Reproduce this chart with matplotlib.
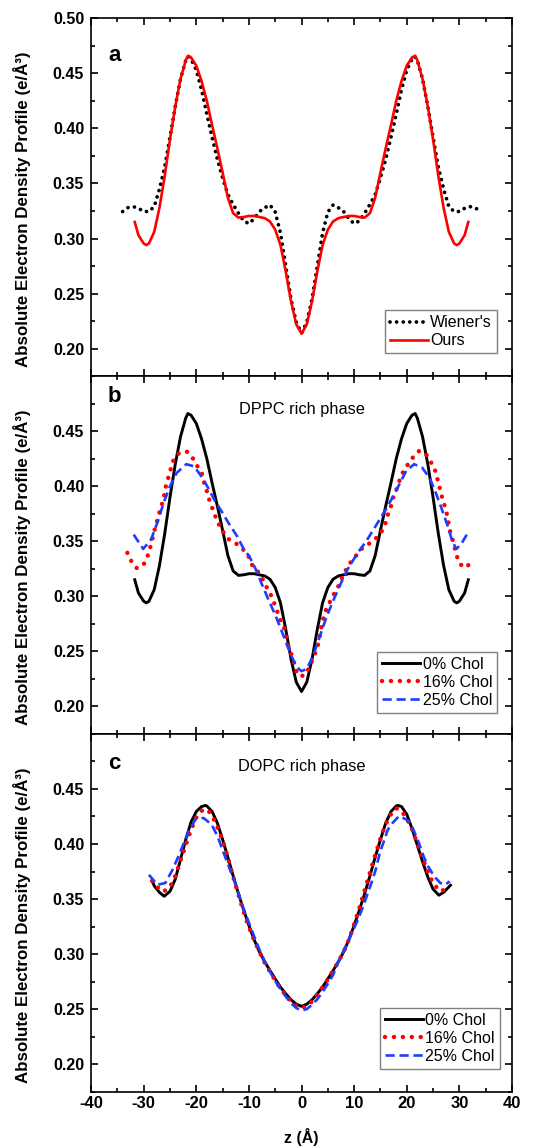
import matplotlib
matplotlib.use("Agg")
import matplotlib.pyplot as plt
from matplotlib.ticker import MultipleLocator

plt.rcParams['font.family'] = ['Liberation Sans', 'DejaVu Sans']
plt.rcParams['axes.unicode_minus'] = False

# panel a: "Ours" (also the 0% Chol curve of panel b)
ours_z = [-31.7, -31, -30, -29.5, -29, -28, -27, -26, -25, -24, -23, -22, -21.6, -21, -20, -19, -18, -17,
          -16, -15, -14, -13, -12, -11, -10, -9, -8, -7, -6, -5, -4, -3, -2, -1, 0,
          1, 2, 3, 4, 5, 6, 7, 8, 9, 10, 11, 12, 13, 14, 15, 16, 17, 18, 19, 20, 21, 21.6, 22,
          23, 24, 25, 26, 27, 28, 29, 29.5, 30, 31, 31.7]
ours_rho = [0.315, 0.303, 0.2955, 0.294, 0.2955, 0.306, 0.328, 0.357, 0.390, 0.420, 0.445, 0.462, 0.466,
            0.4645, 0.457, 0.443, 0.425, 0.403, 0.382, 0.360, 0.337, 0.323, 0.319, 0.3195, 0.3205, 0.3205,
            0.3195, 0.3185, 0.3155, 0.308, 0.294, 0.270, 0.243, 0.222, 0.2135,
            0.222, 0.243, 0.270, 0.294, 0.308, 0.3155, 0.3185, 0.3195, 0.3205, 0.3205, 0.3195, 0.319,
            0.323, 0.337, 0.360, 0.382, 0.403, 0.425, 0.443, 0.457, 0.4645, 0.466, 0.462, 0.445, 0.420,
            0.390, 0.357, 0.328, 0.306, 0.2955, 0.294, 0.2955, 0.303, 0.315]

# panel a: Wiener's
wiener_z = [-34, -33, -32, -31, -30, -29, -28, -27, -26, -25, -24, -23, -22, -21.5, -21, -20, -19, -18,
            -17, -16, -15, -14, -13, -12, -11, -10, -9, -8, -7, -6, -5, -4, -3, -2, -1, 0,
            1, 2, 3, 4, 5, 6, 7, 8, 9, 10, 11, 12, 13, 14, 15, 16, 17, 18, 19, 20, 21, 21.5, 22,
            23, 24, 25, 26, 27, 28, 29, 30, 31, 32, 33, 34]
wiener_rho = [0.3245, 0.328, 0.329, 0.3275, 0.3245, 0.3245, 0.329, 0.345, 0.365, 0.392, 0.420, 0.445,
              0.462, 0.4655, 0.463, 0.453, 0.435, 0.413, 0.392, 0.372, 0.355, 0.340, 0.331, 0.323, 0.316,
              0.3135, 0.318, 0.3245, 0.328, 0.3305, 0.324, 0.305, 0.275, 0.245, 0.224, 0.214,
              0.224, 0.245, 0.275, 0.305, 0.324, 0.3305, 0.328, 0.3245, 0.318, 0.3135, 0.316, 0.323,
              0.331, 0.340, 0.355, 0.372, 0.392, 0.413, 0.435, 0.453, 0.463, 0.4655, 0.462, 0.445, 0.420,
              0.392, 0.365, 0.345, 0.329, 0.3245, 0.3245, 0.3275, 0.329, 0.328, 0.3245]

# panel b: DPPC rich phase
dppc16_z = [-33.1, -32.5, -31.3, -30.0, -29.3, -28.6, -28.0, -27.2, -26.8, -26.3, -26.0, -25.7, -25.25,
            -24.8, -24.35, -23.3, -21.8, -20.6, -19.8, -18.9, -18.5, -18.0, -17.6, -17.1, -16.6, -16.0,
            -15.1, -14.0, -12.6, -11.1, -9.9, -9.3, -8.1, -7.2, -6.5, -5.7, -4.75, -4.1, -3.2, -2.5,
            -1.6, -0.8, 0, 0.8, 1.6, 2.5, 3.2, 3.8, 4.4, 5.3, 6.0, 6.8, 7.9, 9.0, 10.2, 11.5, 12.9,
            14.25, 15.5, 16.1, 16.5, 17.0, 17.4, 18.05, 18.5, 19.1, 20.0, 21.1, 22.3, 23.6, 24.5,
            25.3, 25.7, 26.1, 26.5, 26.9, 27.4, 27.7, 28.0, 28.3, 28.8, 29.5, 30.2, 31.3, 32.5]
dppc16_rho = [0.3395, 0.333, 0.3255, 0.329, 0.336, 0.347, 0.359, 0.3728, 0.380, 0.387, 0.3946, 0.402,
              0.409, 0.4167, 0.4234, 0.430, 0.4315, 0.425, 0.4182, 0.411, 0.403, 0.3955, 0.3886, 0.382,
              0.3752, 0.368, 0.360, 0.3523, 0.3486, 0.3425, 0.335, 0.3274, 0.3214, 0.3138, 0.307, 0.300,
              0.288, 0.279, 0.270, 0.2548, 0.2427, 0.229, 0.2275, 0.229, 0.2366, 0.247, 0.257, 0.273,
              0.285, 0.294, 0.3007, 0.3071, 0.319, 0.3289, 0.3359, 0.3435, 0.348, 0.3531, 0.3607,
              0.3683, 0.3758, 0.3819, 0.3894, 0.397, 0.4036, 0.4112, 0.4182, 0.4257, 0.4318, 0.4297,
              0.4227, 0.4158, 0.4091, 0.4016, 0.394, 0.3864, 0.3795, 0.3728, 0.3653, 0.3577, 0.3501,
              0.3365, 0.3289, 0.326, 0.333]
dppc25_z = [-31.9, -30.1, -28.6, -27.4, -26.2, -25.0, -23.75, -21.9, -20.4, -18.9, -17.7, -16.5, -15.3,
            -13.8, -12.3, -11.1, -9.9, -8.7, -7.5, -6.2, -4.9, -3.5, -2.2, -1.0, 0, 1.0, 2.2, 3.5, 4.8,
            6.2, 7.5, 8.7, 10.6, 12.3, 14.5, 16.3, 18.2, 19.9, 21.4, 22.9, 24.4, 25.6, 26.6, 27.7,
            28.6, 29.4, 30.3, 31.4]
dppc25_rho = [0.356, 0.343, 0.3516, 0.367, 0.385, 0.400, 0.412, 0.420, 0.418, 0.408, 0.398, 0.387, 0.378,
              0.366, 0.355, 0.344, 0.336, 0.3245, 0.3105, 0.296, 0.282, 0.265, 0.249, 0.236, 0.232,
              0.234, 0.246, 0.264, 0.282, 0.298, 0.312, 0.324, 0.339, 0.350, 0.367, 0.381, 0.398, 0.414,
              0.420, 0.417, 0.407, 0.393, 0.380, 0.365, 0.351, 0.343, 0.347, 0.356]

# panel c: DOPC rich phase
dopc0_z = [-28.3, -28, -27, -26.1, -25, -24, -23, -22, -21, -20, -19, -18.3, -18, -17, -16, -15, -14, -13,
           -12, -11, -10, -9, -8, -7, -6, -5, -4, -3, -2, -1, 0,
           1, 2, 3, 4, 5, 6, 7, 8, 9, 10, 11, 12, 13, 14, 15, 16, 17, 18, 18.3, 19, 20, 21, 22, 23,
           24, 25, 26.1, 27, 28, 28.3]
dopc0_rho = [0.3655, 0.362, 0.356, 0.3525, 0.357, 0.368, 0.386, 0.404, 0.420, 0.4295, 0.434, 0.435, 0.4345,
             0.4295, 0.419, 0.404, 0.388, 0.371, 0.355, 0.340, 0.326, 0.313, 0.302, 0.293, 0.285, 0.2775,
             0.270, 0.264, 0.2585, 0.2545, 0.2525,
             0.2545, 0.2585, 0.264, 0.270, 0.2775, 0.285, 0.293, 0.302, 0.313, 0.326, 0.340, 0.355,
             0.371, 0.388, 0.404, 0.419, 0.4295, 0.4345, 0.435, 0.434, 0.427, 0.414, 0.399, 0.384,
             0.370, 0.359, 0.3535, 0.356, 0.361, 0.3625]
dopc16_z = [-28.4, -27.2, -26.3, -25, -24, -23, -22, -21, -20, -19, -18.4, -17.5, -16.5, -15.5, -14.5,
            -13.5, -12.5, -11.5, -10.5, -9.5, -8, -7, -6, -5, -4, -3, -2, -1, 0, 1, 2, 3, 4, 5, 6, 7,
            8, 9, 10, 11, 12, 13, 14, 15, 16, 17, 18, 19, 20, 21, 22, 23, 24, 25, 26.3, 27.2, 28.2]
dopc16_rho = [0.3665, 0.360, 0.3565, 0.361, 0.371, 0.385, 0.399, 0.413, 0.424, 0.430, 0.432, 0.429,
              0.421, 0.4095, 0.396, 0.379, 0.362, 0.346, 0.331, 0.318, 0.302, 0.292, 0.284, 0.276, 0.269,
              0.263, 0.257, 0.253, 0.251, 0.2525, 0.257, 0.263, 0.270, 0.277, 0.285, 0.293, 0.302,
              0.313, 0.327, 0.342, 0.358, 0.374, 0.390, 0.405, 0.418, 0.427, 0.4325, 0.430, 0.423,
              0.4135, 0.4005, 0.387, 0.375, 0.3645, 0.357, 0.3585, 0.3625]
dopc25_z = [-29.0, -27.4, -25.9, -24.5, -23.0, -21.5, -20.1, -18.6, -17.1, -15.95, -14.8, -13.6, -12.4,
            -11.3, -10.1, -9, -8, -7, -6, -5, -4, -3, -2, -1, 0, 1, 2, 3, 4, 5, 6, 7, 8, 9, 10, 10.85,
            11.7, 12.6, 13.5, 14.1, 14.95, 15.55, 16.4, 17.3, 18.5, 19.35, 20.5, 21.4, 22.3, 23.2,
            24.05, 25.2, 26.4, 27.3, 28.15]
dopc25_rho = [0.372, 0.363, 0.3645, 0.3767, 0.3933, 0.4115, 0.4227, 0.4236, 0.4176, 0.407, 0.3918,
              0.3767, 0.3615, 0.3448, 0.3297, 0.316, 0.304, 0.2935, 0.284, 0.2755, 0.268, 0.2615,
              0.2555, 0.251, 0.2488, 0.250, 0.254, 0.259, 0.2655, 0.273, 0.281, 0.293, 0.303, 0.313,
              0.3236, 0.3327, 0.3433, 0.3554, 0.3676, 0.3767, 0.3933, 0.401, 0.413, 0.4191, 0.4252,
              0.4236, 0.4206, 0.4115, 0.401, 0.3888, 0.3797, 0.3706, 0.3645, 0.363, 0.366]

labels = ["0% Chol", "16% Chol", "25% Chol"]
ylab = "Absolute Electron Density Profile (e/Å³)"

red_dots = dict(color="#ff0000", lw=3.2, linestyle=(0, (0.01, 2.0)), dash_capstyle="round")
blue_dash = dict(color="#1f3dff", lw=1.9, linestyle=(0, (3.5, 1.8)))

fig, axes = plt.subplots(3, 1, sharex=True, figsize=(5.52, 11.46), dpi=100)
fig.subplots_adjust(left=0.165, right=0.9275, top=0.984, bottom=0.0474, hspace=0)

ax = axes[0]
ax.plot(wiener_z, wiener_rho, color="black", lw=2.7, linestyle=(0, (0.01, 1.75)),
        dash_capstyle="round", label="Wiener's")
ax.plot(ours_z, ours_rho, color="#ff0000", lw=1.9, label="Ours")

ax = axes[1]
ax.plot(ours_z, ours_rho, color="black", lw=2.1, label=labels[0])
ax.plot(dppc16_z, dppc16_rho, label=labels[1], **red_dots)
ax.plot(dppc25_z, dppc25_rho, label=labels[2], **blue_dash)

ax = axes[2]
ax.plot(dopc0_z, dopc0_rho, color="black", lw=2.1, label=labels[0])
ax.plot(dopc16_z, dopc16_rho, label=labels[1], **red_dots)
ax.plot(dopc25_z, dopc25_rho, label=labels[2], **blue_dash)

letters = ["a", "b", "c"]
letter_y = [0.897, 0.944, 0.918]
legend_pos = [(0.964, 0.064), (0.964, 0.059), (0.971, 0.064)]
for i, ax in enumerate(axes):
    ax.set_xlim(-40, 40)
    ax.set_ylim(0.175, 0.50)
    ax.xaxis.set_major_locator(MultipleLocator(10))
    ax.xaxis.set_minor_locator(MultipleLocator(5))
    yt = [0.20, 0.25, 0.30, 0.35, 0.40, 0.45] + ([0.50] if i == 0 else [])
    ax.set_yticks(yt, ["%.2f" % v for v in yt], fontweight="bold", fontsize=11.5)
    ax.yaxis.set_minor_locator(MultipleLocator(0.025))
    ax.tick_params(which="both", direction="in", top=True, right=True, width=1.2)
    ax.tick_params(which="major", length=5)
    ax.tick_params(which="minor", length=3)
    ax.tick_params(axis="y", pad=5)
    ax.tick_params(axis="x", pad=3)
    for s in ax.spines.values():
        s.set_linewidth(1.2)
    ax.set_ylabel(ylab, fontsize=12.2, fontweight="bold")
    ax.yaxis.set_label_coords(-0.142, 0.466)
    ax.text(0.04, letter_y[i], letters[i], transform=ax.transAxes, fontsize=16,
            fontweight="bold", va="center")
    leg = ax.legend(loc="lower right", bbox_to_anchor=legend_pos[i], borderaxespad=0,
                    fancybox=False, edgecolor="#808080", framealpha=1, fontsize=11.5,
                    handlelength=2.4, handletextpad=0.15, labelspacing=0.2, borderpad=0.3)
    leg.get_frame().set_linewidth(1.0)

axes[1].text(0.5, 0.907, "DPPC rich phase", transform=axes[1].transAxes, ha="center",
             va="center", fontsize=11.8)
axes[2].text(0.5, 0.909, "DOPC rich phase", transform=axes[2].transAxes, ha="center",
             va="center", fontsize=11.8)

for lab in axes[2].get_xticklabels():
    lab.set_fontweight("bold")
    lab.set_fontsize(12)
axes[2].set_xlabel("z (Å)", fontsize=11.5, fontweight="bold", labelpad=12)

fig.savefig("out.png", dpi=100)
